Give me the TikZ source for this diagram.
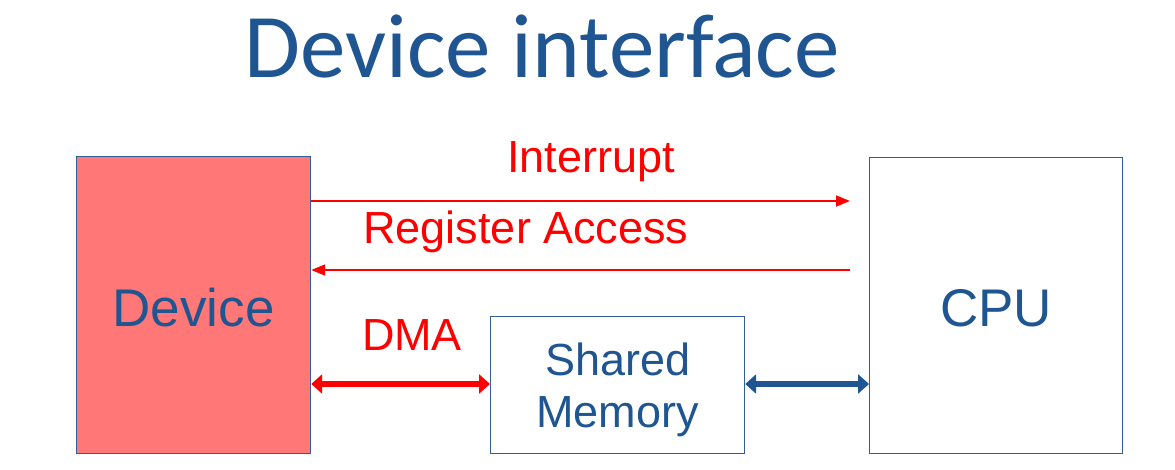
\documentclass[tikz,border=0pt]{standalone}
\usepackage{fontspec}
\setmainfont{Liberation Sans}
\newfontfamily\titlefont{Carlito}
\usetikzlibrary{arrows.meta}
\definecolor{dblue}{RGB}{31,85,145}
\definecolor{bblue}{RGB}{47,95,150}
\definecolor{devfill}{RGB}{255,119,119}
\definecolor{pred}{RGB}{255,0,0}
\begin{document}
\begin{tikzpicture}[x=1pt,y=-1pt,
  box/.style={draw=bblue,line width=1.2pt,inner sep=0pt,anchor=north west},
  boxtext/.style={text=dblue,font=\fontsize{53}{60}\selectfont},
  lbl/.style={text=pred,font=\fontsize{45}{54}\selectfont,inner sep=0pt},
  thin/.style={draw=pred,line width=1.6pt,-{Triangle[length=14pt,width=11pt]}},
  thickred/.style={draw=pred,line width=5.5pt,{Triangle[length=11pt,width=19pt]}-{Triangle[length=11pt,width=19pt]}},
  thickblue/.style={draw=dblue,line width=5.5pt,{Triangle[length=11pt,width=19pt]}-{Triangle[length=11pt,width=19pt]}}]
\useasboundingbox (0,0) rectangle (1175,470);
\node (title) at (542,47) {\titlefont\color{dblue}\fontsize{91}{104}\selectfont Device interface};
\node[box,fill=devfill,minimum width=234pt,minimum height=297pt] (dev) at (76,156) {};
\node[boxtext] at ([yshift=-2pt]dev.center) {Device};
\node[box,fill=white,minimum width=253pt,minimum height=296pt] (cpu) at (869,157) {};
\node[boxtext] at ([yshift=-3pt]cpu.center) {CPU};
\node[box,fill=white,minimum width=254pt,minimum height=137pt] (mem) at (490,316) {};
\node[text=dblue,font=\fontsize{45}{52}\selectfont,align=center] at ([yshift=-5pt]mem.center) {Shared\\Memory};
\coordinate (a1s) at (dev.north east |- 0,201);
\coordinate (a1e) at (850,201);
\coordinate (a2s) at (850,270);
\coordinate (a2e) at (dev.north east |- 0,270);
\draw[thin] (a1s) -- (a1e);
\draw[thin] (a2s) -- (a2e);
\coordinate (d1) at (dev.north east |- 0,384);
\coordinate (d2) at (mem.north west |- 0,384);
\coordinate (m1) at (mem.north east |- 0,384);
\coordinate (m2) at (cpu.north west |- 0,384);
\draw[thickred] (d1) -- (d2);
\draw[thickblue] (m1) -- (m2);
\node[lbl] (int) at (591,162) {Interrupt};
\node[lbl] (reg) at (526,232) {Register Access};
\node[lbl] (dma) at (412,335) {DMA};
\end{tikzpicture}
\end{document}
